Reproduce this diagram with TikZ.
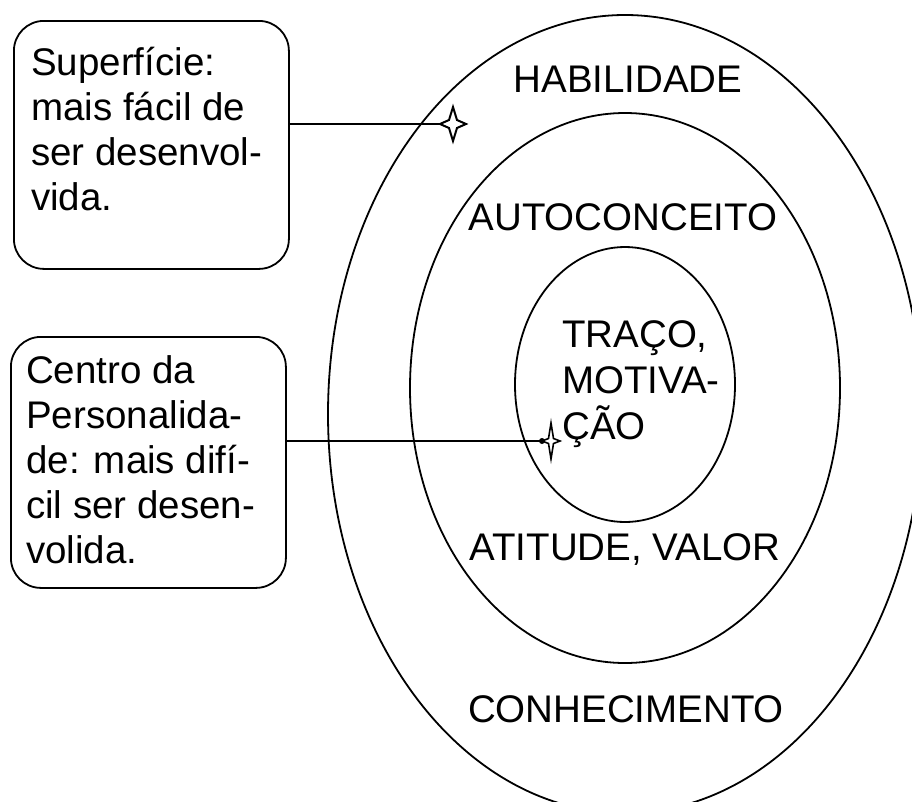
\documentclass[tikz,border=0pt]{standalone}
\usepackage{fontspec}
\setmainfont{Liberation Sans}
\begin{document}
\begin{tikzpicture}[x=1pt,y=-1pt,
  ring/.style={draw=black, line width=1.8pt},
  box/.style={draw=black, line width=1.8pt, rounded corners=30pt, minimum width=275pt, anchor=north west, inner sep=0pt},
  txt/.style={font=\fontsize{38.5pt}{45pt}\selectfont, inner sep=0pt, text=black},
  lbl/.style={txt, anchor=base},
  ln/.style={txt, anchor=base west},
  conn/.style={draw=black, line width=1.8pt},
  spark/.style={draw=black, fill=white, line width=2pt, line join=miter}]
\useasboundingbox (0,0) rectangle (912,801);
\fill[white] (0,0) rectangle (912,801);
\clip (0,0) rectangle (912,801);
% concentric rings
\draw[ring] (625,414) ellipse [x radius=297, y radius=399];
\draw[ring] (625,388) ellipse [x radius=215, y radius=275];
\draw[ring] (625,384.5) ellipse [x radius=110, y radius=137.5];
% ring labels
\node[lbl] (hab) at (628,92) {HABILIDADE};
\node[lbl] (auto) at (623,230) {AUTOCONCEITO};
\node[ln] (tr1) at (562,347) {TRAÇO,};
\node[ln] (tr2) at (562,393) {MOTIVA-};
\node[ln] (tr3) at (562,439) {ÇÃO};
\node[lbl] (ati) at (625,560) {ATITUDE, VALOR};
\node[lbl] (con) at (626,722) {CONHECIMENTO};
% boxes
\node[box, minimum height=248pt] (b1) at (13,20) {};
\node[box, minimum height=251pt] (b2) at (10,336) {};
\node[ln] (b1l1) at (31,75) {Superfície:};
\node[ln] (b1l2) at (31,120) {mais fácil de};
\node[ln] (b1l3) at (31,165) {ser desenvol-};
\node[ln] (b1l4) at (31,210) {vida.};
\node[ln] (b2l1) at (26,383) {Centro da};
\node[ln] (b2l2) at (26,428) {Personalida-};
\node[ln] (b2l3) at (26,473) {de: mais difí-};
\node[ln] (b2l4) at (26,518) {cil ser desen-};
\node[ln] (b2l5) at (26,563) {volida.};
% connectors
\coordinate (s1) at (453,124);
\coordinate (s2) at (551,441);
\draw[conn] (b1.east |- s1) -- ([xshift=-13pt]s1);
\draw[conn] (b2.east |- s2) -- ([xshift=-9pt]s2);
% star marks
\draw[spark] (s1) ++(0,-17) -- ++(4,13) -- ++(9,4) -- ++(-9,4) -- ++(-4,13) -- ++(-4,-13) -- ++(-9,-4) -- ++(9,-4) -- cycle;
\draw[spark, line width=1.6pt] (s2) ++(0,-18) -- ++(2.5,15.5) -- ++(6.5,2.5) -- ++(-6.5,2.5) -- ++(-2.5,15.5) -- ++(-2.5,-15.5) -- ++(-6.5,-2.5) -- ++(6.5,-2.5) -- cycle;
\fill[black] ([xshift=-9pt]s2) circle [radius=3pt];
\end{tikzpicture}
\end{document}
